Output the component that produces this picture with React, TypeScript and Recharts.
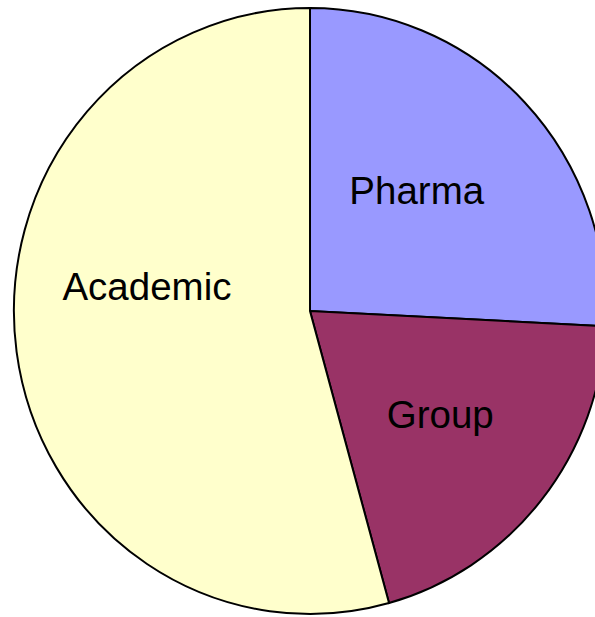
import { Cell, Pie, PieChart } from "recharts";

const CATEGORIES = ["Pharma", "Group", "Academic"];
const SHARES = [25.8, 19.9, 54.3];
const COLORS = ["#9999FF", "#993366", "#FFFFCC"];

// where each label sits inside its slice (radius from centre, angle in degrees)
const LABEL_POS = [
  { r: 161, angle: 47.8 },
  { r: 167, angle: -37.8 },
  { r: 167, angle: 171.6 },
];

const RADIAN = Math.PI / 180;

const data = CATEGORIES.map((name, i) => ({ name, value: SHARES[i] }));

function renderLabel(props: any) {
  const { cx, cy, index, name } = props;
  const pos = LABEL_POS[index];
  const x = cx + pos.r * Math.cos(pos.angle * RADIAN);
  const y = cy - pos.r * Math.sin(pos.angle * RADIAN);
  return (
    <text
      x={x}
      y={y}
      fill="#000"
      textAnchor="middle"
      dominantBaseline="central"
      fontSize={39}
      fontFamily="'Liberation Sans', Arial, sans-serif"
    >
      {name}
    </text>
  );
}

export default function App() {
  return (
    <div style={{ position: "absolute", left: 0, top: 0, width: 595, height: 617, overflow: "hidden", background: "#fff" }}>
      {/* the original pie is very slightly taller than wide; it runs off the right edge */}
      <div style={{ width: 630, transform: "scale(0.987, 1.01)", transformOrigin: "310px 311px" }}>
        <PieChart width={630} height={617} margin={{ top: 0, right: 0, bottom: 0, left: 0 }}>
          <Pie
            data={data}
            dataKey="value"
            nameKey="name"
            cx={310}
            cy={311}
            outerRadius={300}
            startAngle={90}
            endAngle={-270}
            stroke="#000"
            strokeWidth={2}
            label={renderLabel}
            labelLine={false}
            isAnimationActive={false}
          >
            {data.map((_d, i) => (
              <Cell key={i} fill={COLORS[i]} />
            ))}
          </Pie>
        </PieChart>
      </div>
    </div>
  );
}
